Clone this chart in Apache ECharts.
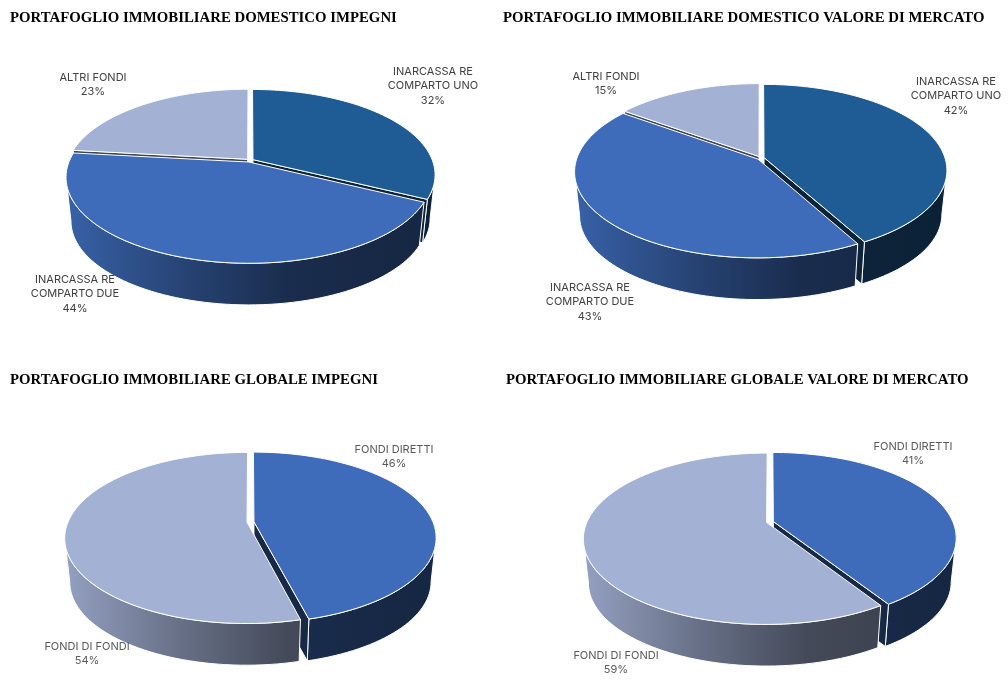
<!DOCTYPE html>
<html>
<head>
<meta charset="utf-8">
<style>html,body{margin:0;padding:0;background:#fff}#chart{width:1008px;height:683px}</style>
<script src="https://cdn.jsdelivr.net/npm/echarts@6/dist/echarts.min.js"></script>
</head>
<body>
<div id="chart"></div>
<script>
// Portfolio shares, in percent
const domesticCategories = ['INARCASSA RE\nCOMPARTO UNO', 'INARCASSA RE\nCOMPARTO DUE', 'ALTRI FONDI'];
const domesticCommitments = [32, 44, 23];
const domesticMarketValue = [42, 43, 15];
const globalCategories = ['FONDI DIRETTI', 'FONDI DI FONDI'];
const globalCommitments = [46, 54];
const globalMarketValue = [41, 59];
const panelTitles = [
  'PORTAFOGLIO IMMOBILIARE DOMESTICO IMPEGNI',
  'PORTAFOGLIO IMMOBILIARE DOMESTICO VALORE DI MERCATO',
  'PORTAFOGLIO IMMOBILIARE GLOBALE IMPEGNI',
  'PORTAFOGLIO IMMOBILIARE GLOBALE VALORE DI MERCATO'
];

// Face colours of the slices
const TEAL = [31, 92, 150], BLUE = [62, 108, 186], LIGHT = [163, 177, 213];
const rgb = (c, f) => `rgb(${c.map(v => Math.round(v * f)).join(',')})`;
// Shading of the outer wall from the left to the right of the pie
const WALL_SHADE = [[0, 0.9], [0.3, 0.64], [0.6, 0.42], [0.8, 0.38], [1, 0.36]];
const CUT_SHADE = 0.38;

// Tilted-disc projection per panel: k sets the perspective foreshortening
const panels = [
  { names: domesticCategories, values: domesticCommitments, colors: [TEAL, BLUE, LIGHT],
    cx: 250, cy: 160.5, a: 179.5, b: 82.8, k: 0.176, text: '#404040',
    labels: [[433, 86], [75, 294], [93, 84.5]], titleX: 10, titleY: 11 },
  { names: domesticCategories, values: domesticMarketValue, colors: [TEAL, BLUE, LIGHT],
    cx: 760.6, cy: 158, a: 181, b: 84, k: 0.146, text: '#404040',
    labels: [[956, 96], [590, 302], [606, 83.5]], titleX: 503, titleY: 11 },
  { names: globalCategories, values: globalCommitments, colors: [BLUE, LIGHT],
    cx: 250.5, cy: 522, a: 179, b: 82.6, k: 0.184, text: '#595959',
    labels: [[394, 456.5], [87, 653.5]], titleX: 10, titleY: 373 },
  { names: globalCategories, values: globalMarketValue, colors: [BLUE, LIGHT],
    cx: 770, cy: 522, a: 179.6, b: 82.4, k: 0.19, text: '#595959',
    labels: [[913, 453.5], [616, 662.5]], titleX: 506, titleY: 373 }
];
const EXPLODE = 0.0195, WALL_SCALE = 0.973, WALL_DROP = 44.4, ARC_STEP = Math.PI / 90;

function makeRenderItem(p) {
  const total = p.values.reduce((s, v) => s + v, 0);
  const starts = [];
  p.values.reduce((s, v, i) => (starts[i] = s, s + v), 0);
  const midV = p.values.map((v, i) => Math.cos((starts[i] + v / 2) / total * 2 * Math.PI));
  const order = midV.map((v, i) => [v, i]).sort((a, b) => b[0] - a[0]).map(e => e[1]);
  const frontEdge = Math.acos(-p.k);

  const top = (u, v) => {
    const d = 1 + p.k * v;
    return [p.cx + p.a * u / d, p.cy - p.b * v / d];
  };
  const bottom = (u, v) => {
    const t = top(u, v);
    return [p.cx + (t[0] - p.cx) * WALL_SCALE, p.cy + (t[1] - p.cy) * WALL_SCALE + WALL_DROP];
  };
  const arc = (fn, from, to, ox, oy) => {
    const n = Math.max(1, Math.ceil(Math.abs(to - from) / ARC_STEP));
    const pts = [];
    for (let j = 0; j <= n; j++) {
      const t = from + (to - from) * j / n;
      pts.push(fn(Math.sin(t) + ox, Math.cos(t) + oy));
    }
    return pts;
  };
  const wallFill = {
    type: 'linear', global: true,
    x: p.cx - p.a * 1.02, y: 0, x2: p.cx + p.a * 1.02, y2: 0
  };

  return function (params, api) {
    const i = params.dataIndex;
    const share = api.value(0);
    const t0 = starts[i] / total * 2 * Math.PI;
    const t1 = (starts[i] + share) / total * 2 * Math.PI;
    const mid = (t0 + t1) / 2;
    const ox = Math.sin(mid) * EXPLODE, oy = Math.cos(mid) * EXPLODE;
    const base = order.indexOf(i) * 10;
    const color = p.colors[i];
    const line = { stroke: '#fff', lineWidth: 1, lineJoin: 'round' };
    const children = [];

    // Outer wall, only where it faces the viewer
    const a0 = Math.max(t0, frontEdge), a1 = Math.min(t1, 2 * Math.PI - frontEdge);
    if (a1 > a0) {
      children.push({
        type: 'polygon', z2: base + 1,
        shape: { points: arc(top, a0, a1, ox, oy).concat(arc(bottom, a1, a0, ox, oy)) },
        style: Object.assign({}, line, {
          fill: Object.assign({}, wallFill, {
            colorStops: WALL_SHADE.map(s => ({ offset: s[0], color: rgb(color, s[1]) }))
          })
        })
      });
    }
    // Radial cut faces seen through the gaps between slices
    [[t0, Math.sin(t0) < -1e-6], [t1, Math.sin(t1) > 1e-6]].forEach(([t, visible]) => {
      if (!visible) return;
      const eu = Math.sin(t) + ox, ev = Math.cos(t) + oy;
      children.push({
        type: 'polygon', z2: base + 2,
        shape: { points: [top(ox, oy), top(eu, ev), bottom(eu, ev), bottom(ox, oy)] },
        style: Object.assign({}, line, { fill: rgb(color, CUT_SHADE) })
      });
    });
    // Top face
    children.push({
      type: 'polygon', z2: base + 3,
      shape: { points: [top(ox, oy)].concat(arc(top, t0, t1, ox, oy)) },
      style: Object.assign({}, line, { fill: rgb(color, 1) })
    });
    // Category and percentage
    children.push({
      type: 'text', z2: 1000,
      x: p.labels[i][0], y: p.labels[i][1],
      style: {
        text: `${p.names[i]}\n${share}%`,
        fill: p.text, fontFamily: 'Inter, "Open Sans", sans-serif', fontSize: 11, lineHeight: 14.4,
        align: 'center', verticalAlign: 'middle'
      }
    });
    return { type: 'group', children };
  };
}

const chart = echarts.init(document.getElementById('chart'), null, { renderer: 'canvas' });
chart.setOption({
  backgroundColor: '#fff',
  animation: false,
  title: panels.map((p, i) => ({
    text: panelTitles[i], left: p.titleX, top: p.titleY, padding: 0,
    textStyle: { fontFamily: '"Liberation Serif", serif', fontWeight: 'bold', fontSize: 14.8, color: '#000' }
  })),
  series: panels.map(p => ({
    type: 'custom',
    coordinateSystem: 'none',
    silent: true,
    renderItem: makeRenderItem(p),
    data: p.values.map((v, i) => ({ name: p.names[i], value: v }))
  }))
});
</script>
</body>
</html>
